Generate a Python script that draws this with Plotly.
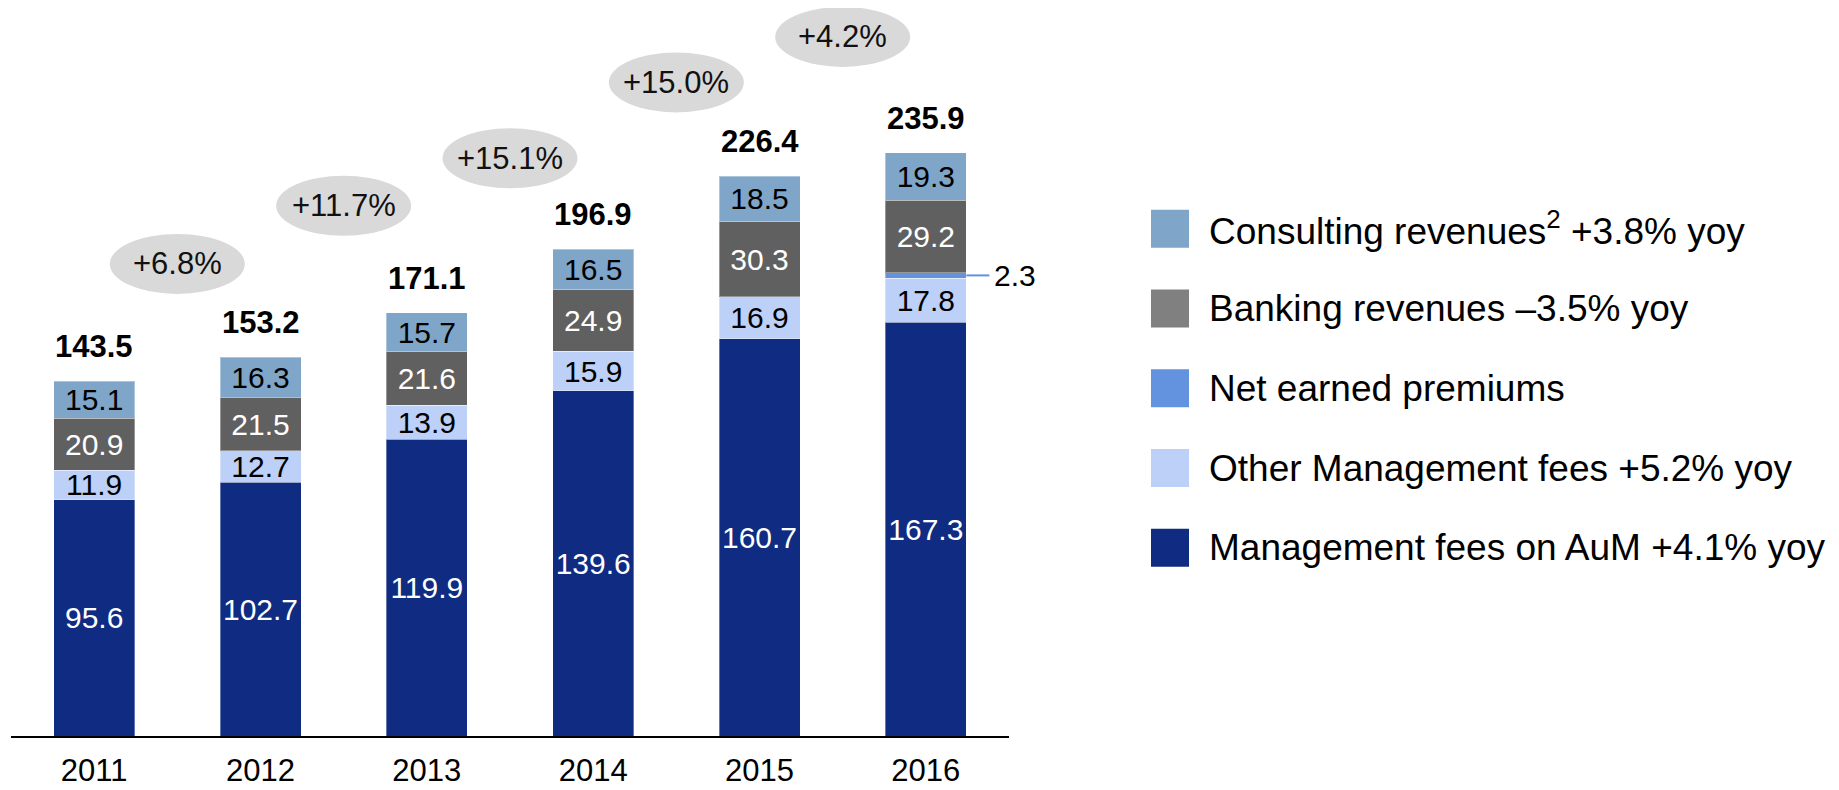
import plotly.graph_objects as go

years = ["2011", "2012", "2013", "2014", "2015", "2016"]

mgmt_fees_aum = [95.6, 102.7, 119.9, 139.6, 160.7, 167.3]
other_mgmt_fees = [11.9, 12.7, 13.9, 15.9, 16.9, 17.8]
net_premiums = [None, None, None, None, None, 2.3]
banking = [20.9, 21.5, 21.6, 24.9, 30.3, 29.2]
consulting = [15.1, 16.3, 15.7, 16.5, 18.5, 19.3]

totals = [143.5, 153.2, 171.1, 196.9, 226.4, 235.9]
growth = ["+6.8%", "+11.7%", "+15.1%", "+15.0%", "+4.2%"]

legend_names = [
    "Consulting revenues<sup>2</sup> +3.8% yoy",
    "Banking revenues \u20133.5% yoy",
    "Net earned premiums",
    "Other Management fees +5.2% yoy",
    "Management fees on AuM +4.1% yoy",
]

FONT = "Arial, Liberation Sans, sans-serif"
C_AUM = "#0F2B82"
C_OTHER = "#BDD0F7"
C_NET = "#6392DE"
C_BANK = "#606060"
C_BANK_LEG = "#808080"
C_CONS = "#7FA6C9"

# page is offset by the default 8px body margin
OFF = 8
W, H = 1839 - OFF, 790 - OFF
L, R, T, B = 3, 830, 0, 54
plot_w = W - L - R
plot_h = H - T - B
plot_bottom_page = OFF + T + plot_h
px_per_unit = 2.473
y_max = plot_h / px_per_unit
cat_px = plot_w / len(years)
bar_w = 0.487

fig = go.Figure()

series = [
    (mgmt_fees_aum, C_AUM, "white", True),
    (other_mgmt_fees, C_OTHER, "black", True),
    (net_premiums, C_NET, "black", False),
    (banking, C_BANK, "white", True),
    (consulting, C_CONS, "black", True),
]
for vals, color, tcolor, show_text in series:
    fig.add_trace(
        go.Bar(
            x=years,
            y=vals,
            width=bar_w,
            marker=dict(color=color, line=dict(color="rgba(255,255,255,0.35)", width=1)),
            text=[f"{v:.1f}" if (v is not None and show_text) else "" for v in vals],
            textposition="inside" if show_text else "none",
            insidetextanchor="middle",
            constraintext="none",
            textangle=0,
            textfont=dict(size=30, color=tcolor, family=FONT),
            hoverinfo="skip",
            showlegend=False,
        )
    )

# totals on top of bars
for i, t in enumerate(totals):
    fig.add_annotation(
        x=i, y=t, text=f"<b>{t:.1f}</b>", showarrow=False,
        yanchor="bottom", yshift=15,
        font=dict(size=31, color="black", family=FONT),
    )

# growth ellipses between bars
ellipse_y = [190.9, 214.4, 233.6, 264.3, 282.7]
ell_w = 135 / cat_px
ell_h = 60 / px_per_unit
for i, g in enumerate(growth):
    cx = i + 0.5
    cy = ellipse_y[i]
    fig.add_shape(
        type="circle", xref="x", yref="y",
        x0=cx - ell_w / 2, x1=cx + ell_w / 2,
        y0=cy - ell_h / 2, y1=cy + ell_h / 2,
        fillcolor="#D9D9D9", line=dict(width=0), layer="below",
    )
    fig.add_annotation(
        x=cx, y=cy, text=g, showarrow=False,
        font=dict(size=31, color="#111111", family=FONT),
    )

# leader line for the small net premiums segment
i16 = len(years) - 1
y_net = mgmt_fees_aum[i16] + other_mgmt_fees[i16] + net_premiums[i16] / 2
x_start = i16 + bar_w / 2
x_end = x_start + 23 / cat_px
fig.add_shape(
    type="line", xref="x", yref="y",
    x0=x_start, x1=x_end, y0=y_net, y1=y_net,
    line=dict(color=C_NET, width=2),
)
fig.add_annotation(
    x=x_end, y=y_net, text=f"{net_premiums[i16]:.1f}", showarrow=False,
    xanchor="left", xshift=3,
    font=dict(size=30, color="black", family=FONT),
)

# manual legend with big square swatches (page pixel positions)
leg_colors = [C_CONS, C_BANK_LEG, C_NET, C_OTHER, C_AUM]
row0, row_step = 228.8, 79.75
sw_x0, sw_size, txt_x = 1151, 38, 1207


def px_x(p):
    return (p - OFF - L) / plot_w


def px_y(p):
    return (plot_bottom_page - p) / plot_h


for k, (name, col) in enumerate(zip(legend_names, leg_colors)):
    cy = row0 + k * row_step
    fig.add_shape(
        type="rect", xref="paper", yref="paper",
        x0=px_x(sw_x0), x1=px_x(sw_x0 + sw_size),
        y0=px_y(cy + sw_size / 2), y1=px_y(cy - sw_size / 2),
        fillcolor=col, line=dict(width=0),
    )
    fig.add_annotation(
        xref="paper", yref="paper", x=px_x(txt_x), y=px_y(cy),
        text=name, showarrow=False, xanchor="left", yanchor="middle",
        font=dict(size=37, color="black", family=FONT),
    )

fig.update_layout(
    width=W, height=H,
    margin=dict(l=L, r=R, t=T, b=B, autoexpand=False),
    barmode="stack",
    plot_bgcolor="white", paper_bgcolor="white",
    font=dict(family=FONT, color="black"),
    showlegend=False,
)
fig.update_xaxes(
    type="category", range=[-0.5, len(years) - 0.5],
    showline=True, linecolor="black", linewidth=2,
    showgrid=False, ticks="", ticklabelstandoff=6,
    tickfont=dict(size=31, color="black", family=FONT),
    fixedrange=True,
)
fig.update_yaxes(
    range=[0, y_max], visible=False, showgrid=False, zeroline=False,
    fixedrange=True,
)

fig.write_html("out.html", config={"displayModeBar": False})
